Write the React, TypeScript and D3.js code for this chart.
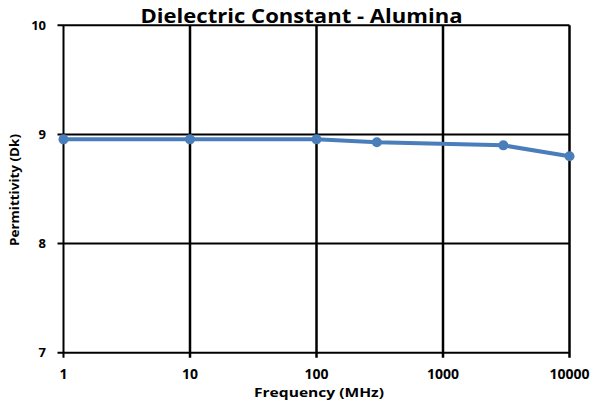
import React from "react";
import * as d3 from "d3";

const frequencies = [1, 10, 100, 300, 3000, 10000];
const permittivity = [8.955, 8.955, 8.955, 8.928, 8.9, 8.8];
const xTicks = [1, 10, 100, 1000, 10000];
const yTicks = [7, 8, 9, 10];
const title = "Dielectric Constant - Alumina";
const xTitle = "Frequency (MHz)";
const yTitle = "Permittivity (Dk)";

export default function App() {
  const W = 593, H = 404;
  const left = 63.5, right = 569.5, top = 25.3, bottom = 352.7;
  const x = d3.scaleLog().domain([1, 10000]).range([left, right]);
  const y = d3.scaleLinear().domain([7, 10]).range([bottom, top]);
  const line = d3.line<number>().x((_, i) => x(frequencies[i])).y((d) => y(d));
  const font = "'Open Sans', 'Liberation Sans', sans-serif";
  return (
    <svg width={W} height={H} style={{ position: "absolute", left: 0, top: 0, background: "#fff" }}>
      <rect width={W} height={H} fill="#fff" />
      {yTicks.map((t) => (
        <g key={"y" + t}>
          <line x1={left - 6} x2={right} y1={y(t)} y2={y(t)} stroke="#000" strokeWidth={2} />
          <text x={46} y={y(t)} dy="0.35em" textAnchor="end" fontFamily={font} fontWeight="bold" fontSize={13}>{t}</text>
        </g>
      ))}
      {xTicks.map((t) => (
        <g key={"x" + t}>
          <line x1={x(t)} x2={x(t)} y1={top} y2={bottom + 5} stroke="#000" strokeWidth={t === 1 ? 2 : 2.5} />
          <text x={x(t)} y={379} textAnchor="middle" fontFamily={font} fontWeight="bold" fontSize={14}>{t}</text>
        </g>
      ))}
      <path d={line(permittivity) || ""} fill="none" stroke="#4a7ebb" strokeWidth={4} />
      {permittivity.map((v, i) => (
        <circle key={i} cx={x(frequencies[i])} cy={y(v)} r={5} fill="#4a7ebb" />
      ))}
      <text x={301.5} y={23} textAnchor="middle" fontFamily={font} fontWeight="bold" fontSize={19.5} textLength={322} lengthAdjust="spacingAndGlyphs">{title}</text>
      <text x={319} y={397} textAnchor="middle" fontFamily={font} fontWeight="bold" fontSize={12.5} textLength={130} lengthAdjust="spacingAndGlyphs">{xTitle}</text>
      <text transform={`translate(19,190) rotate(-90)`} textAnchor="middle" fontFamily={font} fontWeight="bold" fontSize={12} textLength={112} lengthAdjust="spacingAndGlyphs">{yTitle}</text>
    </svg>
  );
}
